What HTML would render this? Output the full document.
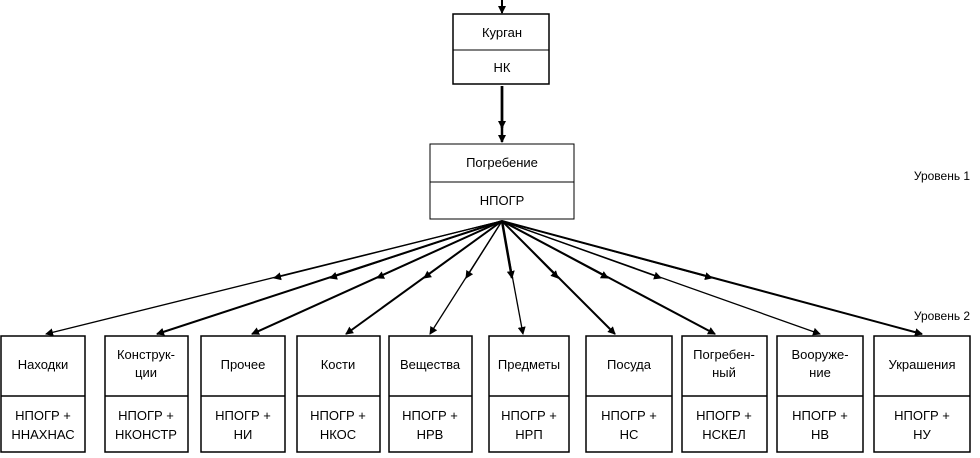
<!DOCTYPE html><html><head><meta charset="utf-8"><style>
body{margin:0;background:#fff;}
svg text{font-family:"Liberation Sans",Arial,sans-serif;font-size:13px;fill:#000;text-anchor:middle}
</style></head><body>
<svg width="980" height="453" viewBox="0 0 980 453" xmlns="http://www.w3.org/2000/svg">
<defs><marker id="a" markerWidth="8" markerHeight="8" refX="7" refY="4" orient="auto" markerUnits="userSpaceOnUse"><path d="M0,0 L8,4 L0,8 z" fill="#000"/></marker></defs>
<g stroke="#000" fill="none">
<line x1="502" y1="0" x2="502" y2="13" stroke-width="2" marker-end="url(#a)"/>
<rect x="453" y="14" width="96" height="70" stroke-width="1.5"/><line x1="453" y1="50" x2="549" y2="50"/>
<line x1="502" y1="86" x2="502" y2="142" stroke-width="2.5" marker-end="url(#a)"/>
<line x1="502" y1="86" x2="502" y2="128" stroke-width="2.5" marker-end="url(#a)"/>
<rect x="430" y="144" width="144" height="75" stroke-width="1"/><line x1="430" y1="182" x2="574" y2="182"/>
</g>
<text x="502" y="37">Курган</text><text x="502" y="72">НК</text>
<text x="502" y="167">Погребение</text><text x="502" y="205">НПОГР</text>
<text x="942" y="180" style="font-size:12px">Уровень 1</text>
<text x="942" y="320" style="font-size:12px">Уровень 2</text>
<g stroke="#000" stroke-width="1.3" fill="none">
<line x1="502" y1="221" x2="46" y2="334" marker-end="url(#a)"/><line x1="502" y1="221" x2="274" y2="278" marker-end="url(#a)"/>
<line x1="502" y1="221" x2="157" y2="334" marker-end="url(#a)" stroke-width="2"/><line x1="502" y1="221" x2="330" y2="278" marker-end="url(#a)"/>
<line x1="502" y1="221" x2="252" y2="334" marker-end="url(#a)" stroke-width="2"/><line x1="502" y1="221" x2="377" y2="278" marker-end="url(#a)"/>
<line x1="502" y1="221" x2="346" y2="334" marker-end="url(#a)" stroke-width="2"/><line x1="502" y1="221" x2="424" y2="278" marker-end="url(#a)"/>
<line x1="502" y1="221" x2="430" y2="334" marker-end="url(#a)"/><line x1="502" y1="221" x2="466" y2="278" marker-end="url(#a)"/>
<line x1="502" y1="221" x2="523" y2="334" marker-end="url(#a)"/><line x1="502" y1="221" x2="512" y2="278" marker-end="url(#a)" stroke-width="2.5"/>
<line x1="502" y1="221" x2="615" y2="334" marker-end="url(#a)" stroke-width="2"/><line x1="502" y1="221" x2="558" y2="278" marker-end="url(#a)"/>
<line x1="502" y1="221" x2="715" y2="334" marker-end="url(#a)" stroke-width="2"/><line x1="502" y1="221" x2="608" y2="278" marker-end="url(#a)"/>
<line x1="502" y1="221" x2="820" y2="334" marker-end="url(#a)"/><line x1="502" y1="221" x2="661" y2="278" marker-end="url(#a)"/>
<line x1="502" y1="221" x2="922" y2="334" marker-end="url(#a)" stroke-width="2"/><line x1="502" y1="221" x2="712" y2="278" marker-end="url(#a)"/>
</g>
<g stroke="#000" stroke-width="1.5" fill="none">
<rect x="1" y="336" width="84" height="116"/><line x1="1" y1="396" x2="85" y2="396"/>
<rect x="105" y="336" width="83" height="116"/><line x1="105" y1="396" x2="188" y2="396"/>
<rect x="201" y="336" width="84" height="116"/><line x1="201" y1="396" x2="285" y2="396"/>
<rect x="297" y="336" width="83" height="116"/><line x1="297" y1="396" x2="380" y2="396"/>
<rect x="389" y="336" width="83" height="116"/><line x1="389" y1="396" x2="472" y2="396"/>
<rect x="489" y="336" width="80" height="116"/><line x1="489" y1="396" x2="569" y2="396"/>
<rect x="586" y="336" width="86" height="116"/><line x1="586" y1="396" x2="672" y2="396"/>
<rect x="682" y="336" width="85" height="116"/><line x1="682" y1="396" x2="767" y2="396"/>
<rect x="777" y="336" width="86" height="116"/><line x1="777" y1="396" x2="863" y2="396"/>
<rect x="874" y="336" width="96" height="116"/><line x1="874" y1="396" x2="970" y2="396"/>
</g>
<text x="43" y="369">Находки</text>
<text x="146" y="359">Конструк-</text><text x="146" y="377">ции</text>
<text x="243" y="369">Прочее</text>
<text x="338" y="369">Кости</text>
<text x="430" y="369">Вещества</text>
<text x="529" y="369">Предметы</text>
<text x="629" y="369">Посуда</text>
<text x="724" y="359">Погребен-</text><text x="724" y="377">ный</text>
<text x="820" y="359">Вооруже-</text><text x="820" y="377">ние</text>
<text x="922" y="369">Украшения</text>
<g>
<text x="43" y="420">НПОГР +</text><text x="43" y="439">ННАХНАС</text>
<text x="146" y="420">НПОГР +</text><text x="146" y="439">НКОНСТР</text>
<text x="243" y="420">НПОГР +</text><text x="243" y="439">НИ</text>
<text x="338" y="420">НПОГР +</text><text x="338" y="439">НКОС</text>
<text x="430" y="420">НПОГР +</text><text x="430" y="439">НРВ</text>
<text x="529" y="420">НПОГР +</text><text x="529" y="439">НРП</text>
<text x="629" y="420">НПОГР +</text><text x="629" y="439">НС</text>
<text x="724" y="420">НПОГР +</text><text x="724" y="439">НСКЕЛ</text>
<text x="820" y="420">НПОГР +</text><text x="820" y="439">НВ</text>
<text x="922" y="420">НПОГР +</text><text x="922" y="439">НУ</text>
</g>
</svg>
</body></html>
